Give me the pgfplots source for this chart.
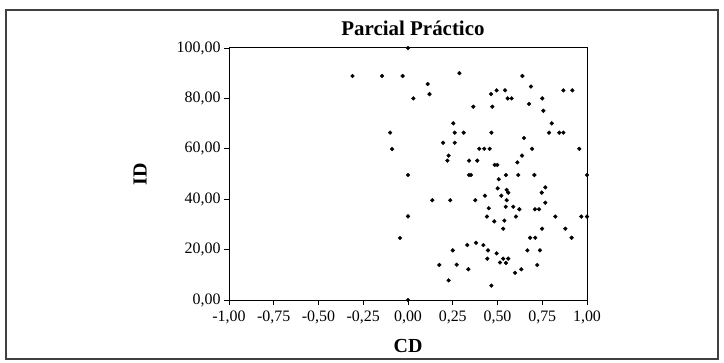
\documentclass[border=0pt]{standalone}
\usepackage{pgfplots}
\pgfplotsset{compat=1.18}
\usepackage{fontspec}
\setmainfont{Liberation Serif}
\begin{document}
\begin{tikzpicture}[x=1bp,y=1bp]
\useasboundingbox (0,0) rectangle (724,362);
\draw[black!75, line width=1.2bp] (6,3) rectangle (718,352);
\begin{axis}[
  at={(229bp,62bp)}, anchor=south west,
  scale only axis, width=358bp, height=252bp,
  xmin=-1, xmax=1, ymin=0, ymax=100,
  xtick={-1,-0.75,-0.5,-0.25,0,0.25,0.5,0.75,1},
  ytick={0,20,40,60,80,100},
  tick pos=left, tick align=outside,
  major tick length=5bp,
  axis line style={line width=1bp},
  every tick/.style={black, line width=0.8bp},
  clip=false,
  /pgf/number format/.cd, fixed, fixed zerofill, precision=2, use comma, 1000 sep={}, assume math mode=true,
  /pgfplots/.cd,
  tick label style={font=\fontsize{16}{18}\selectfont},
  xticklabel style={yshift=-2bp},
]
\addplot[only marks, mark=*, mark size=1.9bp, black] coordinates {
(0.00,100.0) (-0.31,88.9) (-0.145,88.9) (-0.03,88.9) (0.11,85.7) (0.12,81.7)
(0.03,80.0) (0.287,90.0) (0.639,88.9) (0.687,84.7) (0.464,81.7) (0.495,83.2)
(0.542,83.2) (0.557,80.0) (0.579,80.0) (0.75,80.0) (0.676,77.8) (0.756,75.1)
(0.365,76.7) (0.471,76.7) (0.868,83.2) (0.918,83.2) (0.253,70.1) (0.803,70.1)
(-0.10,66.4) (-0.089,59.9) (0.0,49.6) (0.136,39.6) (0.0,33.2) (0.261,66.4)
(0.311,66.4) (0.466,66.4) (0.788,66.4) (0.845,66.4) (0.868,66.4) (0.196,62.4)
(0.261,62.4) (0.648,64.3) (0.398,60.0) (0.426,60.0) (0.456,60.0) (0.693,60.0)
(0.957,60.0) (0.227,57.3) (0.22,55.3) (0.637,57.3) (0.341,55.3) (0.387,55.3)
(0.611,54.6) (0.484,53.6) (0.499,53.6) (0.341,49.6) (0.352,49.6) (0.547,49.6)
(0.616,49.6) (0.706,49.6) (1.0,49.6) (0.507,47.9) (0.501,44.3) (0.551,43.7)
(0.56,42.6) (0.767,44.7) (0.747,42.6) (0.43,41.4) (0.521,41.4) (0.236,39.6)
(0.376,39.6) (0.551,39.6) (0.767,38.6) (0.451,36.4) (0.546,37.0) (0.588,37.0)
(0.622,36.0) (0.709,36.0) (0.732,36.0) (0.441,33.1) (0.603,33.1) (0.823,33.1)
(0.968,33.1) (1.0,33.1) (0.482,31.2) (0.538,31.5) (0.532,28.3) (0.749,28.3)
(0.879,28.3) (-0.045,24.6) (0.175,13.9) (0.0,0.0) (0.682,24.7) (0.711,24.7)
(0.914,24.7) (0.25,19.7) (0.331,21.8) (0.38,22.7) (0.421,21.8) (0.447,19.7)
(0.443,16.4) (0.495,18.5) (0.514,14.9) (0.532,16.4) (0.56,16.4) (0.547,14.7)
(0.667,19.7) (0.737,19.7) (0.722,13.9) (0.272,14.0) (0.337,12.2) (0.227,7.8)
(0.466,5.7) (0.598,10.8) (0.633,12.2)
};
\end{axis}
\node[font=\bfseries\fontsize{21}{24}\selectfont] at (413,334) {Parcial Práctico};
\node[font=\bfseries\fontsize{20}{22}\selectfont, rotate=90] at (140,188) {ID};
\node[font=\bfseries\fontsize{20}{22}\selectfont] at (408,16) {CD};
\end{tikzpicture}
\end{document}
